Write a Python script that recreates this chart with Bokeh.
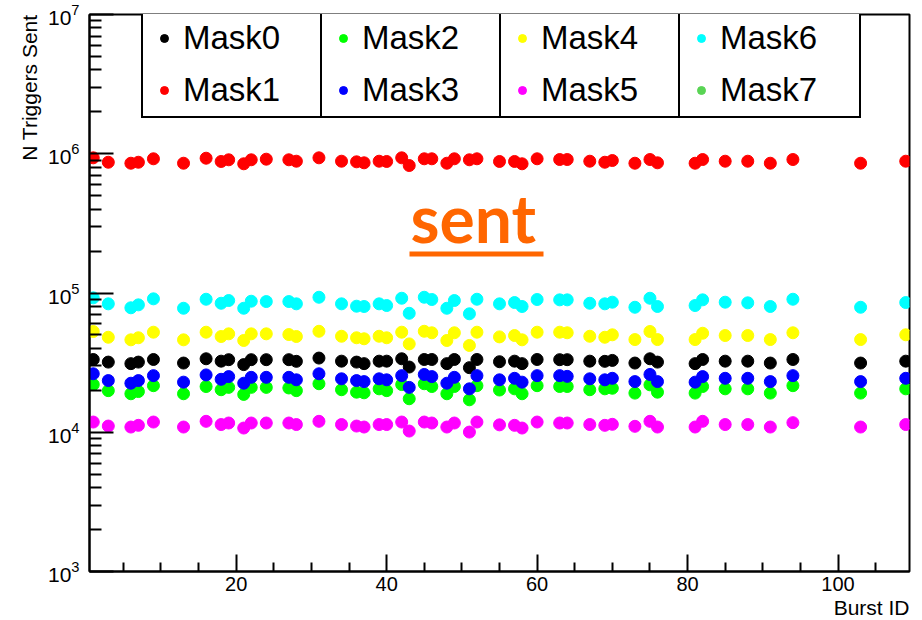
import math
from bokeh.plotting import figure
from bokeh.models import (Legend, LegendItem, FixedTicker, LogTickFormatter, Label,
                          BoxAnnotation, Range1d, Title)
from bokeh.embed import file_html
from bokeh.resources import INLINE

burst_id = [1, 3, 6, 7, 9, 13, 16, 18, 19, 21, 22, 24, 27, 28, 31, 34, 36, 37, 39, 40,
            42, 43, 45, 46, 48, 49, 51, 52, 55, 57, 58, 60, 63, 64, 67, 69, 70, 73, 75, 76,
            81, 82, 85, 88, 91, 94, 103, 109]

mask0 = [33300, 31900, 31100, 31900, 33300, 31400, 33700, 32400, 33200, 30600,
         33200, 33200, 33200, 32300, 34100, 32400, 31900, 31100, 32400, 32400,
         33700, 29400, 33300, 33300, 31100, 33300, 29100, 33300, 32100, 32400,
         31100, 33300, 33200, 33200, 32400, 32300, 32800, 31400, 33700, 31900,
         31100, 33300, 32400, 32400, 31400, 33300, 31400, 32400]
mask1 = [935000, 869000, 855000, 869000, 920000, 855000, 929000, 880000, 905000, 847000,
         905000, 914000, 905000, 884000, 935000, 884000, 875000, 861000, 884000, 880000,
         935000, 823000, 920000, 920000, 855000, 920000, 905000, 920000, 880000, 880000,
         847000, 920000, 909000, 909000, 884000, 869000, 894000, 855000, 909000, 861000,
         855000, 909000, 884000, 884000, 855000, 909000, 855000, 884000]
mask2 = [22000, 19900, 18900, 19600, 21600, 18900, 21300, 20200, 21000, 18700,
         21000, 21000, 20800, 19900, 22300, 20200, 19400, 19200, 20500, 19900,
         22000, 17400, 22300, 21300, 18900, 21300, 17100, 21600, 20100, 20500,
         18900, 21600, 21300, 21300, 20200, 20500, 20700, 19100, 21900, 19400,
         19100, 21300, 20500, 20500, 19100, 21600, 19100, 20500]
mask3 = [26300, 23500, 22500, 23500, 25500, 22900, 25800, 24000, 25100, 22500,
         24800, 24800, 24800, 23800, 26300, 24200, 23500, 23100, 24200, 23800,
         25500, 21000, 26000, 25100, 22500, 24800, 20500, 25500, 23800, 24400,
         22900, 25500, 25500, 25200, 24200, 23800, 24400, 23100, 26000, 23100,
         22900, 25100, 24400, 24400, 23100, 25500, 23100, 24400]
mask4 = [52900, 48100, 46100, 47700, 52300, 46100, 52300, 48700, 50900, 45600,
         50900, 50900, 50300, 48700, 53100, 48900, 47700, 46900, 48900, 47700,
         52300, 43100, 53100, 51800, 45600, 51800, 42000, 52300, 48400, 49500,
         46100, 52300, 52300, 51800, 48900, 48100, 50100, 46300, 52900, 46300,
         46300, 51400, 49500, 49500, 46300, 51800, 46300, 50100]
mask5 = [11840, 11080, 10900, 11210, 11840, 10900, 11980, 11360, 11650, 10720,
         11650, 11650, 11650, 11360, 11980, 11360, 11080, 10900, 11360, 11360,
         11840, 10200, 11840, 11650, 10900, 11650, 10030, 11840, 11300, 11210,
         10720, 11840, 11650, 11650, 11360, 11210, 11400, 11030, 11980, 10900,
         10900, 11980, 11360, 11360, 10900, 11720, 10900, 11360]
mask6 = [92300, 83600, 78300, 82200, 90800, 77700, 90200, 84400, 88300, 77700,
         87300, 86800, 86800, 83600, 93200, 83600, 80400, 80000, 83600, 81300,
         91700, 71500, 93200, 89800, 77700, 88300, 70900, 90200, 83600, 85400,
         80000, 89800, 89300, 89300, 84400, 83600, 85900, 79000, 91700, 80000,
         81300, 89300, 85900, 85000, 80000, 90200, 79000, 85400]
# Mask7: zero triggers in every burst (nothing visible on the log axis)
mask7 = [0, 0, 0, 0, 0, 0, 0, 0, 0, 0, 0, 0, 0, 0, 0, 0, 0, 0, 0, 0, 0, 0, 0, 0,
         0, 0, 0, 0, 0, 0, 0, 0, 0, 0, 0, 0, 0, 0, 0, 0, 0, 0, 0, 0, 0, 0, 0, 0]

names = ["Mask0", "Mask1", "Mask2", "Mask3", "Mask4", "Mask5", "Mask6", "Mask7"]
series = [mask0, mask1, mask2, mask3, mask4, mask5, mask6, mask7]
colors = ["#000000", "#ff0000", "#00ff00", "#0000ff", "#ffff00", "#ff00ff", "#00ffff", "#59d454"]

x_ticks = [20, 40, 60, 80, 100]
x_minor = [5, 10, 15, 25, 30, 35, 45, 50, 55, 65, 70, 75, 85, 90, 95, 105]
y_ticks = [1e3, 1e4, 1e5, 1e6, 1e7]
y_minor = [m * 10 ** k for k in range(3, 7) for m in range(2, 10)]
x_title = "Burst ID"
y_title = "N Triggers Sent"

p = figure(width=920, height=620, y_axis_type="log",
           x_range=Range1d(0.5, 109.5), y_range=Range1d(1e3, 1e7),
           output_backend="svg", toolbar_location=None,
           min_border_left=89, min_border_right=11, min_border_top=14, min_border_bottom=49)
p.grid.visible = False
p.outline_line_color = "black"
p.outline_line_width = 2
p.outline_line_alpha = 1.0
p.background_fill_color = "white"

p.xaxis.ticker = FixedTicker(ticks=x_ticks, minor_ticks=x_minor)
p.yaxis.ticker = FixedTicker(ticks=y_ticks, minor_ticks=y_minor)
p.yaxis.formatter = LogTickFormatter()

for ax in (p.xaxis[0], p.yaxis[0]):
    ax.axis_line_width = 2
    ax.axis_line_color = "black"
    ax.major_tick_out = 0
    ax.minor_tick_out = 0
    ax.major_tick_line_width = 2
    ax.minor_tick_line_width = 2
    ax.major_tick_line_color = "black"
    ax.minor_tick_line_color = "black"
    ax.major_label_text_font = "Liberation Sans"
    ax.major_label_text_color = "black"
p.xaxis.major_label_text_font_size = "20px"
p.yaxis.major_label_text_font_size = "21px"
p.xaxis.major_tick_in = 17
p.xaxis.minor_tick_in = 9
p.xaxis.major_label_standoff = 5
p.yaxis.major_tick_in = 24
p.yaxis.minor_tick_in = 12
p.yaxis.major_label_standoff = 10

# axis titles at the far end of each axis (ROOT style)
p.add_layout(Title(text=y_title, align="right", text_font="Liberation Sans",
                   text_font_style="normal", text_font_size="21px", text_color="black",
                   standoff=8, offset=0), "left")
p.add_layout(Title(text=x_title, align="right", text_font="Liberation Sans",
                   text_font_style="normal", text_font_size="21px", text_color="black",
                   standoff=0, offset=0), "below")

renderers = []
for vals, c in zip(series, colors):
    r = p.scatter(x=burst_id, y=vals, size=12, fill_color=c, line_color=c)
    renderers.append(r)

for i in range(4):
    a, b = 2 * i, 2 * i + 1
    leg = Legend(items=[LegendItem(label=names[a], renderers=[renderers[a]]),
                        LegendItem(label=names[b], renderers=[renderers[b]])],
                 location=(52 + 179 * i, 453), margin=0, padding=7, spacing=14,
                 glyph_width=28, glyph_height=20, label_standoff=5,
                 label_width=132, label_height=37,
                 label_text_font="Liberation Sans", label_text_font_size="33px",
                 label_text_color="black",
                 border_line_color="black", border_line_width=2, border_line_alpha=1.0,
                 background_fill_color="white", background_fill_alpha=1.0)
    p.add_layout(leg, "center")

p.add_layout(Label(x=321, y=354, x_units="screen", y_units="screen", text="sent",
                   text_font="Lato", text_font_style="bold", text_font_size="66px",
                   text_color="#ff6600", text_baseline="alphabetic"))
p.add_layout(BoxAnnotation(left=320, right=454, top=320, bottom=315,
                           left_units="screen", right_units="screen",
                           top_units="screen", bottom_units="screen",
                           fill_color="#ff6600", fill_alpha=1.0, line_alpha=0))

open("out.html", "w").write(file_html(p, INLINE))
